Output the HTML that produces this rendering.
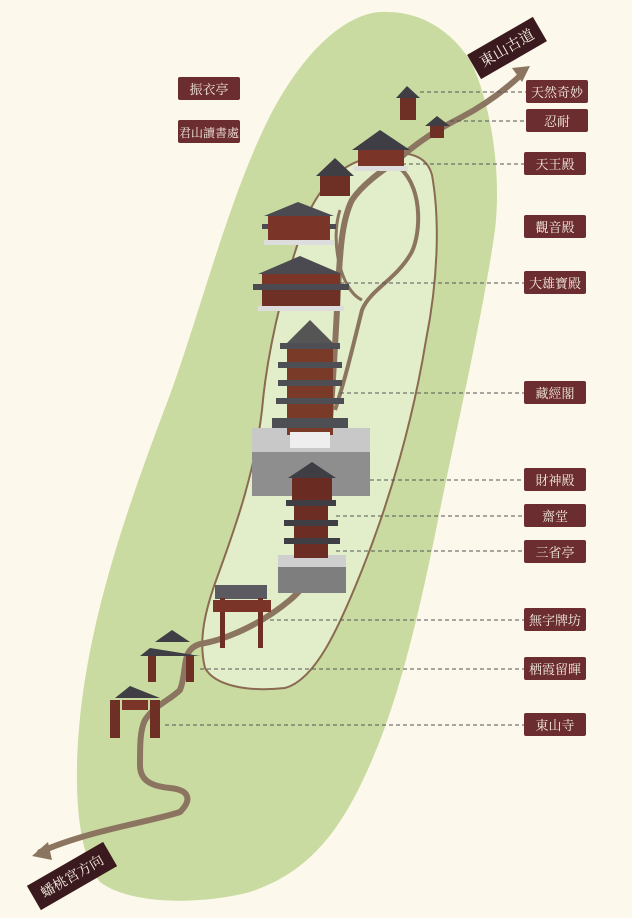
<!DOCTYPE html>
<html><head><meta charset="utf-8"><style>
html,body{margin:0;padding:0;background:#fdf8ec;}
svg{display:block}
text{font-family:"Liberation Serif","Noto Serif CJK SC",serif;}
</style></head><body>
<svg width="632" height="918" viewBox="0 0 632 918" xmlns="http://www.w3.org/2000/svg">
<rect width="632" height="918" fill="#fdf8ec"/>
<!-- island -->
<path d="M380,12 C420,10 450,30 470,60 C490,100 502,170 495,230 C482,320 458,420 438,520 C418,620 398,700 372,760 C342,830 310,872 250,892 C200,905 130,905 100,882 C76,852 72,780 82,700 C95,600 130,500 168,400 C198,320 228,200 268,120 C298,60 340,15 380,12 Z" fill="#c9dba0"/>
<!-- inner light area -->
<path d="M362,160 C392,150 425,148 432,175 C440,220 438,280 426,340 C413,420 390,500 362,570 C338,630 315,680 285,688 C248,692 215,686 205,668 C198,640 205,610 218,575 C238,520 255,470 262,410 C268,340 290,260 310,210 C325,180 345,165 362,160 Z" fill="#e2eec9" stroke="#8a6a50" stroke-width="2"/>
<!-- inner sub loop -->
<path d="M400,168 C425,190 420,240 410,255 C395,280 370,290 362,310 C352,350 345,380 335,410" fill="none" stroke="#8b7560" stroke-width="4"/>
<path d="M340,210 C330,240 340,290 362,300" fill="none" stroke="#8b7560" stroke-width="3"/>
<!-- main path -->
<path d="M40,852 C90,830 150,822 180,812 C192,800 190,790 170,788 C150,786 140,780 140,765 C140,745 140,730 145,720 C155,705 170,700 180,690 C188,670 180,650 200,644 C225,640 260,625 290,600 C308,585 318,565 320,540 C324,500 326,460 330,420 C334,370 336,330 338,290 C340,250 342,220 352,200 C362,185 380,172 400,158 C420,140 440,128 460,118 C485,105 505,90 522,74" fill="none" stroke="#8b7560" stroke-width="6" stroke-linecap="round"/>
<path d="M512,68 L530,66 L522,82 Z" fill="#8b7560"/>
<path d="M48,842 L32,856 L52,860 Z" fill="#8b7560"/>
<!-- dashed leaders -->
<g stroke="#555" stroke-width="1" stroke-dasharray="4,3">
<line x1="420" y1="92" x2="526" y2="92"/>
<line x1="450" y1="121" x2="526" y2="121"/>
<line x1="395" y1="164" x2="524" y2="164"/>
<line x1="340" y1="283" x2="526" y2="283"/>
<line x1="340" y1="393" x2="524" y2="393"/>
<line x1="370" y1="480" x2="524" y2="480"/>
<line x1="336" y1="516" x2="524" y2="516"/>
<line x1="336" y1="551" x2="524" y2="551"/>
<line x1="270" y1="620" x2="524" y2="620"/>
<line x1="200" y1="669" x2="524" y2="669"/>
<line x1="165" y1="725" x2="524" y2="725"/>
</g>
<!-- buildings -->
<g>
<rect x="252" y="428" width="118" height="68" fill="#8e8e8e"/>
<rect x="252" y="428" width="118" height="24" fill="#c8c8c8"/>
<rect x="278" y="555" width="68" height="38" fill="#7e7e7e"/>
<rect x="278" y="555" width="68" height="12" fill="#cfcfcf"/>
<polygon points="310,320 285,345 335,345" fill="#555"/>
<rect x="287" y="345" width="46" height="90" fill="#7a3a28"/>
<g fill="#4e4e55">
<rect x="280" y="343" width="60" height="6"/><rect x="278" y="362" width="64" height="6"/>
<rect x="278" y="380" width="64" height="6"/><rect x="276" y="398" width="68" height="6"/>
<rect x="272" y="418" width="76" height="10"/>
</g>
<rect x="290" y="432" width="40" height="16" fill="#eee"/>
<polygon points="312,462 288,478 336,478" fill="#3e3e44"/>
<rect x="292" y="478" width="40" height="22" fill="#6a2c22"/>
<rect x="294" y="500" width="34" height="58" fill="#6b2d24"/>
<g fill="#3e3e44"><rect x="286" y="500" width="50" height="6"/><rect x="284" y="520" width="54" height="6"/><rect x="284" y="538" width="56" height="6"/></g>
<polygon points="300,256 258,274 342,274" fill="#4a4a50"/>
<rect x="262" y="274" width="78" height="12" fill="#7a3528"/>
<rect x="253" y="284" width="96" height="6" fill="#4a4a50"/>
<rect x="262" y="290" width="78" height="18" fill="#6e3024"/>
<rect x="258" y="306" width="86" height="5" fill="#ddd"/>
<polygon points="298,202 264,216 334,216" fill="#4a4a50"/>
<rect x="262" y="224" width="74" height="5" fill="#4a4a50"/>
<rect x="268" y="216" width="62" height="26" fill="#7a3528"/>
<rect x="264" y="240" width="70" height="5" fill="#ddd"/>
<polygon points="335,158 316,176 354,176" fill="#3e3e44"/>
<rect x="320" y="176" width="30" height="20" fill="#6e3024"/>
<polygon points="380,130 352,150 410,150" fill="#3e3e44"/>
<rect x="358" y="150" width="46" height="18" fill="#7a3528"/>
<rect x="354" y="166" width="54" height="5" fill="#ddd"/>
<polygon points="407,86 396,98 420,98" fill="#3e3e44"/>
<rect x="400" y="98" width="16" height="22" fill="#6e3024"/>
<polygon points="437,116 425,126 450,126" fill="#3e3e44"/>
<rect x="430" y="126" width="14" height="12" fill="#6e3024"/>
<rect x="215" y="585" width="52" height="14" fill="#5a5a60"/>
<rect x="220" y="598" width="5" height="50" fill="#6e3024"/><rect x="258" y="598" width="5" height="50" fill="#6e3024"/>
<rect x="213" y="600" width="58" height="12" fill="#7a3528"/>
<g fill="#3e3e44"><polygon points="172,630 155,642 190,642"/><polygon points="150,648 140,656 200,656"/><polygon points="130,686 115,698 160,698"/></g>
<rect x="148" y="656" width="8" height="26" fill="#6e3024"/><rect x="186" y="656" width="8" height="26" fill="#6e3024"/>
<rect x="110" y="700" width="10" height="38" fill="#6e3024"/><rect x="150" y="700" width="10" height="38" fill="#6e3024"/>
<rect x="122" y="700" width="26" height="10" fill="#7a3528"/>
</g>
<!-- labels -->
<g fill="#6b2d30">
<rect x="526" y="80" width="62" height="23" rx="2"/>
<rect x="526" y="109" width="62" height="23" rx="2"/>
<rect x="524" y="152" width="62" height="23" rx="2"/>
<rect x="524" y="215" width="62" height="23" rx="2"/>
<rect x="524" y="271" width="62" height="23" rx="2"/>
<rect x="524" y="381" width="62" height="23" rx="2"/>
<rect x="524" y="468" width="62" height="23" rx="2"/>
<rect x="524" y="504" width="62" height="23" rx="2"/>
<rect x="524" y="540" width="62" height="23" rx="2"/>
<rect x="524" y="608" width="62" height="23" rx="2"/>
<rect x="524" y="657" width="62" height="23" rx="2"/>
<rect x="524" y="713" width="62" height="23" rx="2"/>
<rect x="178" y="77" width="62" height="23" rx="2"/>
<rect x="178" y="120" width="62" height="23" rx="2"/>
</g>
<g fill="#f4ece0" font-size="13" text-anchor="middle">
<text x="557" y="97">天然奇妙</text>
<text x="557" y="126">忍耐</text>
<text x="555" y="169">天王殿</text>
<text x="555" y="232">觀音殿</text>
<text x="555" y="288">大雄寶殿</text>
<text x="555" y="398">藏經閣</text>
<text x="555" y="485">財神殿</text>
<text x="555" y="521">齋堂</text>
<text x="555" y="557">三省亭</text>
<text x="555" y="625">無字牌坊</text>
<text x="555" y="674">栖霞留暉</text>
<text x="555" y="730">東山寺</text>
<text x="209" y="94">振衣亭</text>
<text x="209" y="137" font-size="12">君山讀書處</text>
</g>
<g transform="translate(507,48) rotate(-30)">
<rect x="-38" y="-14" width="76" height="28" fill="#3a1a1e"/>
<text x="0" y="5" fill="#f4ece0" font-size="15" text-anchor="middle">東山古道</text>
</g>
<g transform="translate(72,876) rotate(-30)">
<rect x="-44" y="-14" width="88" height="28" fill="#3a1a1e"/>
<text x="0" y="5" fill="#f4ece0" font-size="14" text-anchor="middle">蟠桃宮方向</text>
</g>
</svg>
</body></html>
